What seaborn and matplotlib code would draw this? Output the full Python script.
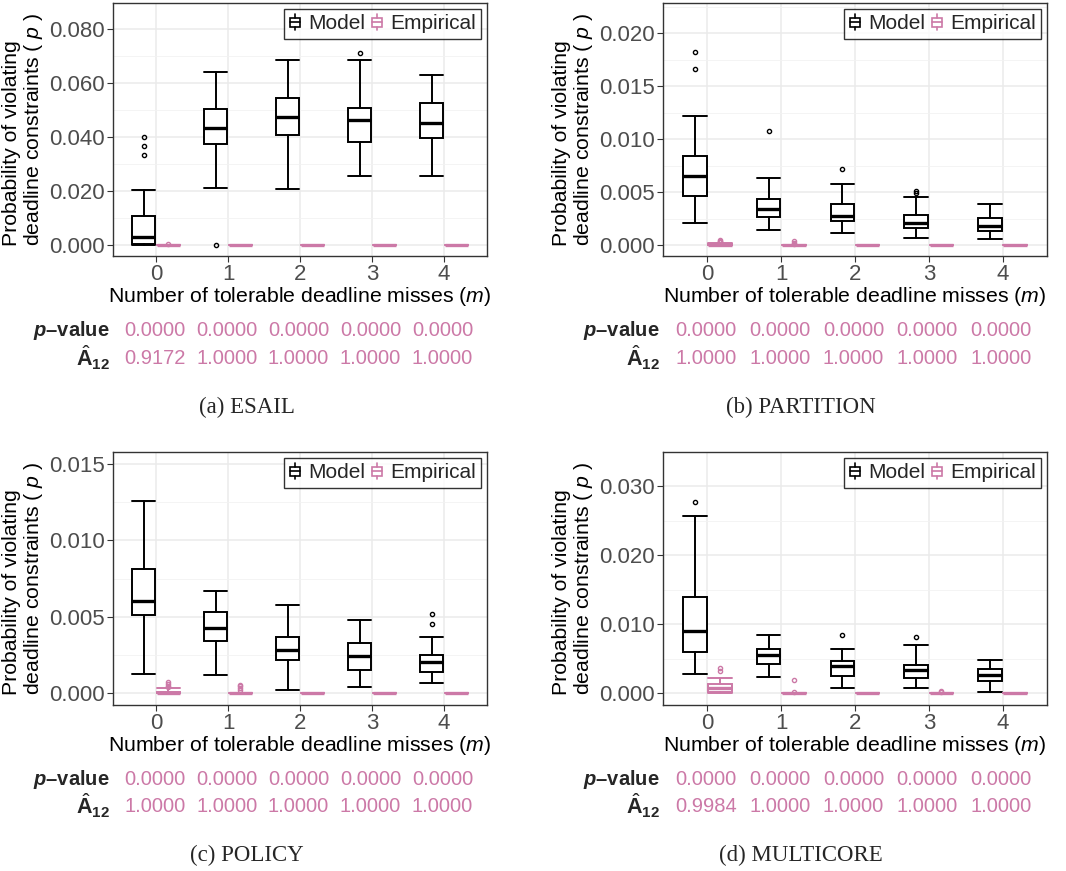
import numpy as np
import matplotlib
matplotlib.use("Agg")
import matplotlib.pyplot as plt
import seaborn as sns
from matplotlib.patches import Patch, Rectangle
from matplotlib.lines import Line2D
from matplotlib.legend_handler import HandlerBase
from matplotlib.ticker import MultipleLocator, FormatStrFormatter
from matplotlib.transforms import blended_transform_factory

# ------------------------------------------------------------
# data: five-number summaries (lo, q1, med, q3, hi) + outliers
# ------------------------------------------------------------
m_values = [0, 1, 2, 3, 4]

esail_model = [(0.0, 0.0002, 0.0030, 0.0108, 0.0202),
               (0.0212, 0.0374, 0.0431, 0.0503, 0.0639),
               (0.0208, 0.0406, 0.0474, 0.0542, 0.0683),
               (0.0255, 0.0380, 0.0462, 0.0508, 0.0686),
               (0.0255, 0.0395, 0.0452, 0.0526, 0.0628)]
esail_model_out = [[0.0332, 0.0367, 0.0399], [0.0], [], [0.0711], []]
esail_emp = [(0, 0, 0, 0, 0)] * 5
esail_emp_out = [[0.0005], [], [], [], []]
esail_pval = ["0.0000", "0.0000", "0.0000", "0.0000", "0.0000"]
esail_a12 = ["0.9172", "1.0000", "1.0000", "1.0000", "1.0000"]

partition_model = [(0.00211, 0.00467, 0.00653, 0.00842, 0.01218),
                   (0.00142, 0.00262, 0.00338, 0.00432, 0.00637),
                   (0.00110, 0.00227, 0.00274, 0.00391, 0.00580),
                   (0.00069, 0.00161, 0.00211, 0.00284, 0.00457),
                   (0.00060, 0.00132, 0.00183, 0.00256, 0.00391)]
partition_model_out = [[0.01659, 0.01823], [0.01079], [0.00719], [0.00495, 0.00514], []]
partition_emp = [(0, 0, 0.00003, 0.00008, 0.00015),
                 (0, 0, 0, 0, 0), (0, 0, 0, 0, 0), (0, 0, 0, 0, 0), (0, 0, 0, 0, 0)]
partition_emp_out = [[0.00025, 0.0003, 0.00035, 0.00045], [0.0001, 0.0002, 0.00035], [], [], []]
partition_pval = ["0.0000", "0.0000", "0.0000", "0.0000", "0.0000"]
partition_a12 = ["1.0000", "1.0000", "1.0000", "1.0000", "1.0000"]

policy_model = [(0.00128, 0.00514, 0.00601, 0.00814, 0.01253),
                (0.00119, 0.00341, 0.00430, 0.00534, 0.00671),
                (0.00020, 0.00221, 0.00280, 0.00367, 0.00580),
                (0.00039, 0.00152, 0.00245, 0.00330, 0.00480),
                (0.00069, 0.00139, 0.00202, 0.00250, 0.00369)]
policy_model_out = [[], [], [], [], [0.00452, 0.00521]]
policy_emp = [(0, 0, 0.00002, 0.00008, 0.00033),
              (0, 0, 0, 0, 0), (0, 0, 0, 0, 0), (0, 0, 0, 0, 0), (0, 0, 0, 0, 0)]
policy_emp_out = [[0.0004, 0.0005, 0.0006, 0.00074], [0.0002, 0.00035, 0.00045, 0.00054], [], [], []]
policy_pval = ["0.0000", "0.0000", "0.0000", "0.0000", "0.0000"]
policy_a12 = ["1.0000", "1.0000", "1.0000", "1.0000", "1.0000"]

multicore_model = [(0.00279, 0.00602, 0.00905, 0.01392, 0.02576),
                   (0.00241, 0.00419, 0.00554, 0.00645, 0.00838),
                   (0.00082, 0.00250, 0.00390, 0.00467, 0.00636),
                   (0.00072, 0.00222, 0.00337, 0.00414, 0.00698),
                   (0.00019, 0.00183, 0.00265, 0.00347, 0.00477)]
multicore_model_out = [[0.02778], [], [0.00838], [0.00809], []]
multicore_emp = [(0, 0.0002, 0.0008, 0.00135, 0.00222),
                 (0, 0, 0, 0, 0), (0, 0, 0, 0, 0), (0, 0, 0, 0, 0), (0, 0, 0, 0, 0)]
multicore_emp_out = [[0.0033, 0.0036], [0.0002, 0.0019], [], [0.0002, 0.0004], []]
multicore_pval = ["0.0000", "0.0000", "0.0000", "0.0000", "0.0000"]
multicore_a12 = ["0.9984", "1.0000", "1.0000", "1.0000", "1.0000"]

PINK = "#CC79A7"

# ------------------------------------------------------------
# style (ggplot theme_bw look)
# ------------------------------------------------------------
sns.set_theme(style="whitegrid")
plt.rcParams["font.family"] = ["Liberation Sans", "DejaVu Sans"]
plt.rcParams["mathtext.fontset"] = "custom"
plt.rcParams["mathtext.rm"] = "Liberation Sans"
plt.rcParams["mathtext.it"] = "Liberation Sans:italic"
plt.rcParams["mathtext.bf"] = "Liberation Sans:bold"
plt.rcParams["mathtext.bfit"] = "Liberation Sans:italic:bold"


class BoxHandler(HandlerBase):
    # small boxplot glyph for the legend
    def create_artists(self, legend, orig_handle, xdescent, ydescent,
                       width, height, fontsize, trans):
        c = orig_handle.get_edgecolor()
        cx = width / 2 - xdescent
        bw = width * 0.8
        y0 = -ydescent
        rect = Rectangle((cx - bw / 2, y0 + height * 0.2), bw, height * 0.6,
                         facecolor="white", edgecolor=c, lw=1.2, transform=trans)
        l1 = Line2D([cx, cx], [y0 - height * 0.05, y0 + height * 0.2], color=c, lw=1.2, transform=trans)
        l2 = Line2D([cx, cx], [y0 + height * 0.8, y0 + height * 1.05], color=c, lw=1.2, transform=trans)
        l3 = Line2D([cx - bw / 2, cx + bw / 2], [y0 + height * 0.5] * 2, color=c, lw=1.2, transform=trans)
        return [rect, l1, l2, l3]


def stats_list(summ, outs):
    out = []
    for (lo, q1, med, q3, hi), fl in zip(summ, outs):
        out.append(dict(whislo=lo, q1=q1, med=med, q3=q3, whishi=hi, fliers=fl))
    return out


def draw_panel(ax, model, model_out, emp, emp_out, ylim, step, pvals, a12s,
               row_y, caption, cap_x, cap_y):
    pos = np.array(m_values, dtype=float)
    for summ, outs, color, off in [(model, model_out, "black", -0.17),
                                   (emp, emp_out, PINK, 0.17)]:
        ax.bxp(stats_list(summ, outs), positions=pos + off, widths=0.32,
               patch_artist=True, manage_ticks=False,
               boxprops=dict(facecolor="white", edgecolor=color, lw=1.4),
               medianprops=dict(color=color, lw=2.4),
               whiskerprops=dict(color=color, lw=1.4),
               capprops=dict(color=color, lw=1.4),
               capwidths=0.32,
               flierprops=dict(marker="o", markersize=3, markerfacecolor="none",
                               markeredgecolor=color, markeredgewidth=1.0))
    ax.set_xlim(-0.6, 4.6)
    ax.set_ylim(*ylim)
    ax.set_xticks(m_values)
    ax.set_xticklabels([str(v) for v in m_values])
    ax.yaxis.set_major_locator(MultipleLocator(step))
    ax.yaxis.set_minor_locator(MultipleLocator(step / 2))
    ax.yaxis.set_major_formatter(FormatStrFormatter("%.3f"))
    ax.grid(which="major", color="#EBEBEB", lw=1.1)
    ax.grid(which="minor", axis="y", color="#F2F2F2", lw=0.6)
    ax.tick_params(axis="both", labelsize=16, labelcolor="#4D4D4D", length=4,
                   width=0.8, color="#333333", left=True, bottom=True, pad=2)
    ax.tick_params(which="minor", left=False)
    for sp in ax.spines.values():
        sp.set_edgecolor("#333333")
        sp.set_linewidth(1.0)
    ax.set_xlabel("Number of tolerable deadline misses ($m$)", fontsize=15.3,
                  color="black", labelpad=0)
    ax.set_ylabel("Probability of violating\ndeadline constraints ( $p$ )",
                  fontsize=15.3, color="black", labelpad=3, linespacing=1.05,
                  multialignment="left")
    handles = [Patch(facecolor="white", edgecolor="black", label="Model"),
               Patch(facecolor="white", edgecolor=PINK, label="Empirical")]
    leg = ax.legend(handles=handles, handler_map={Patch: BoxHandler()},
                    loc="upper right", ncol=2, fontsize=15, frameon=True,
                    fancybox=False, borderaxespad=0.3, borderpad=0.25,
                    handlelength=0.6, handletextpad=0.3, columnspacing=0.3)
    leg.get_frame().set_edgecolor("black")
    leg.get_frame().set_linewidth(1.0)

    fig = ax.figure
    tr = blended_transform_factory(ax.transData, fig.transFigure)
    x_lab = ax.get_position().x0 - 3 / 1066
    fig.text(x_lab, row_y[0], "$\\mathbfit{p}$\u2013value", fontsize=14.5,
             fontweight="bold", ha="right", va="center")
    fig.text(x_lab, row_y[1], "$\\hat{\\mathbf{A}}_{\\mathbf{12}}$", fontsize=15.5,
             ha="right", va="center")
    for xv, pv, av in zip(m_values, pvals, a12s):
        ax.text(xv - 0.02, row_y[0], pv, transform=tr, fontsize=14.5, color=PINK,
                ha="center", va="center")
        ax.text(xv - 0.02, row_y[1], av, transform=tr, fontsize=14.5, color=PINK,
                ha="center", va="center")
    fig.text(cap_x, cap_y, caption, fontsize=16.5, family=["Liberation Serif"],
             ha="center", va="center")


W, H = 1066, 871
fig = plt.figure(figsize=(W / 100, H / 100), dpi=100)

def px_axes(left, top, right, bottom):
    return fig.add_axes([left / W, 1 - bottom / H, (right - left) / W, (bottom - top) / H])

ax_a = px_axes(113, 3, 487, 256)
ax_b = px_axes(663, 3, 1047, 256)
ax_c = px_axes(113, 452, 487, 705)
ax_d = px_axes(663, 452, 1047, 705)

top_rows = (1 - 330 / H, 1 - 358 / H)
bot_rows = (1 - 779 / H, 1 - 806 / H)

draw_panel(ax_a, esail_model, esail_model_out, esail_emp, esail_emp_out,
           (-0.00406, 0.0895), 0.02, esail_pval, esail_a12, top_rows,
           "(a) ESAIL", 247 / W, 1 - 407 / H)
draw_panel(ax_b, partition_model, partition_model_out, partition_emp, partition_emp_out,
           (-0.00104, 0.02287), 0.005, partition_pval, partition_a12, top_rows,
           "(b) PARTITION", 801 / W, 1 - 407 / H)
draw_panel(ax_c, policy_model, policy_model_out, policy_emp, policy_emp_out,
           (-0.00076, 0.01576), 0.005, policy_pval, policy_a12, bot_rows,
           "(c) POLICY", 247 / W, 1 - 855 / H)
draw_panel(ax_d, multicore_model, multicore_model_out, multicore_emp, multicore_emp_out,
           (-0.00169, 0.03496), 0.01, multicore_pval, multicore_a12, bot_rows,
           "(d) MULTICORE", 801 / W, 1 - 855 / H)

fig.savefig("out.png", dpi=100)
